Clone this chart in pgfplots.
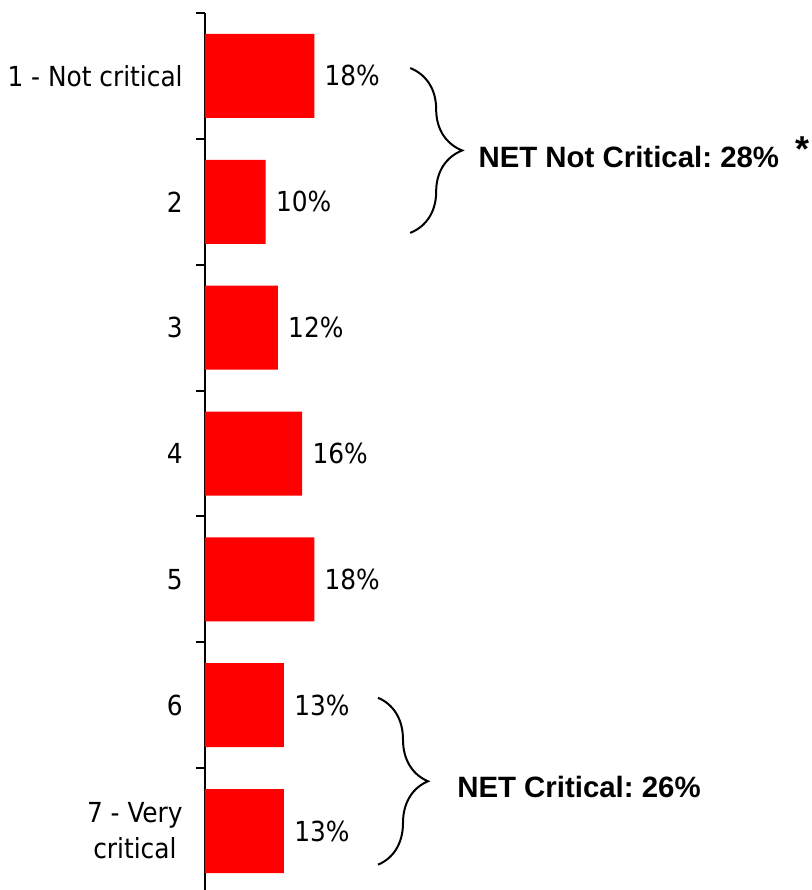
\documentclass[border=0pt]{standalone}
\usepackage{pgfplots}
\pgfplotsset{compat=1.18}
\usepackage{fontspec}
\setmainfont{DejaVu Sans Condensed}
\newfontfamily\arialfont{Liberation Sans}
\usetikzlibrary{decorations.pathreplacing}
\frenchspacing

\begin{document}
\begin{tikzpicture}
\useasboundingbox (0,0) rectangle (405.5pt,445pt);
\begin{axis}[
  at={(102.5pt,-2pt)}, anchor=south west,
  scale only axis, width=303.5pt, height=440.5pt,
  xmin=0, xmax=100, ymin=0.5, ymax=7.5, y dir=reverse,
  axis x line=none, axis y line*=left,
  y axis line style={line width=1pt, black},
  xbar, bar width=42pt,
  ytick={1,...,7},
  yticklabels={1 - Not critical,2,3,4,5,6,{7 - Very\\critical}},
  major tick length=0pt,
  minor ytick={0.5,1.5,...,7.5},
  minor tick length=4.5pt,
  tick align=outside,
  minor tick style={line width=1pt, black},
  yticklabel style={font=\fontsize{13.8}{18}\selectfont, align=center, inner sep=0pt, xshift=-11pt},
  nodes near coords={\pgfmathprintnumber[assume math mode=true]{\pgfplotspointmeta}\%},
  point meta=x,
  nodes near coords style={font=\fontsize{13.8}{18}\selectfont, anchor=west, inner sep=0pt, xshift=5pt},
  clip=false,
]
\addplot[fill=red, draw=none] coordinates {(18,1) (10,2) (12,3) (16,4) (18,5) (13,6) (13,7)};
\draw[line width=1pt, decorate, decoration={brace, amplitude=26pt}] (axis cs:33.8,0.937) -- (axis cs:33.8,2.247);
\node[anchor=base west, inner sep=0pt, font={\arialfont\bfseries\fontsize{14.7}{17}\selectfont}] at (axis cs:45,1.731) {NET Not Critical: 28\%};
\node[anchor=base, inner sep=0pt, font={\arialfont\bfseries\fontsize{18}{20}\selectfont}] at (axis cs:98.4,1.676) {*};
\draw[line width=1pt, decorate, decoration={brace, amplitude=25pt}] (axis cs:28.5,5.941) -- (axis cs:28.5,7.267);
\node[anchor=base west, inner sep=0pt, font={\arialfont\bfseries\fontsize{14.7}{17}\selectfont}] at (axis cs:41.5,6.735) {NET Critical: 26\%};
\end{axis}
\end{tikzpicture}
\end{document}
